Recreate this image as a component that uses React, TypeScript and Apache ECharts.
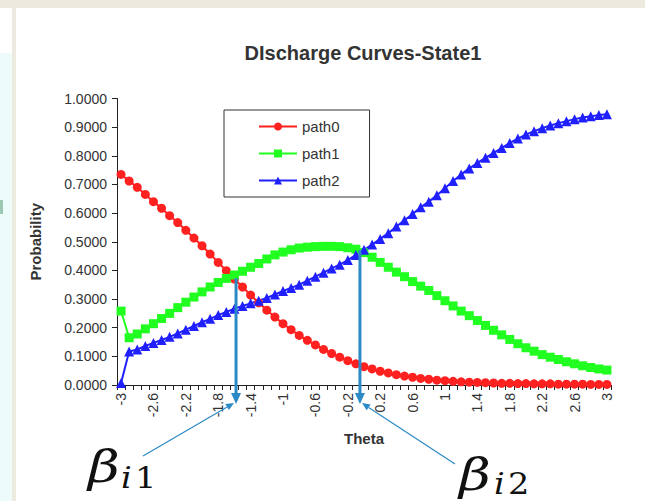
import React, { useEffect, useRef } from 'react';
import * as echarts from 'echarts';

const thetaLabels = [
  '-3', '-2.9', '-2.8', '-2.7', '-2.6', '-2.5', '-2.4', '-2.3', '-2.2', '-2.1',
  '-2', '-1.9', '-1.8', '-1.7', '-1.6', '-1.5', '-1.4', '-1.3', '-1.2', '-1.1',
  '-1', '-0.9', '-0.8', '-0.7', '-0.6', '-0.5', '-0.4', '-0.3', '-0.2', '-0.1',
  '0', '0.1', '0.2', '0.3', '0.4', '0.5', '0.6', '0.7', '0.8', '0.9',
  '1', '1.1', '1.2', '1.3', '1.4', '1.5', '1.6', '1.7', '1.8', '1.9',
  '2', '2.1', '2.2', '2.3', '2.4', '2.5', '2.6', '2.7', '2.8', '2.9', '3',
];

const path0 = [
  0.735, 0.712, 0.690, 0.665, 0.640, 0.617, 0.591, 0.567, 0.540, 0.513,
  0.486, 0.457, 0.428, 0.399, 0.370, 0.342, 0.314, 0.287, 0.261, 0.237,
  0.214, 0.193, 0.173, 0.156, 0.140, 0.124, 0.110, 0.097, 0.085, 0.074,
  0.064, 0.056, 0.048, 0.042, 0.036, 0.031, 0.027, 0.023, 0.020, 0.017,
  0.015, 0.013, 0.011, 0.010, 0.009, 0.008, 0.007, 0.006, 0.006, 0.005,
  0.005, 0.004, 0.004, 0.004, 0.003, 0.003, 0.003, 0.003, 0.002, 0.002, 0.002,
];

const path1 = [
  0.258, 0.165, 0.178, 0.196, 0.214, 0.232, 0.250, 0.270, 0.289, 0.307,
  0.325, 0.342, 0.358, 0.372, 0.384, 0.397, 0.411, 0.424, 0.440, 0.454,
  0.464, 0.472, 0.478, 0.481, 0.483, 0.484, 0.484, 0.483, 0.479, 0.474,
  0.462, 0.446, 0.428, 0.411, 0.394, 0.378, 0.361, 0.345, 0.330, 0.312,
  0.294, 0.276, 0.258, 0.242, 0.225, 0.208, 0.191, 0.175, 0.159, 0.144,
  0.130, 0.118, 0.106, 0.097, 0.089, 0.081, 0.074, 0.067, 0.061, 0.056, 0.052,
];

const path2 = [
  0.007, 0.117, 0.124, 0.136, 0.147, 0.157, 0.168, 0.180, 0.193, 0.206,
  0.219, 0.231, 0.244, 0.255, 0.266, 0.276, 0.285, 0.294, 0.304, 0.316,
  0.328, 0.339, 0.350, 0.364, 0.378, 0.392, 0.407, 0.420, 0.436, 0.454,
  0.472, 0.490, 0.510, 0.530, 0.553, 0.575, 0.597, 0.620, 0.640, 0.662,
  0.687, 0.712, 0.735, 0.756, 0.775, 0.793, 0.810, 0.827, 0.845, 0.860,
  0.874, 0.886, 0.896, 0.906, 0.914, 0.921, 0.928, 0.934, 0.938, 0.942, 0.945,
];

const seriesNames = ['path0', 'path1', 'path2'];
const seriesColors = ['#FF2020', '#20FF20', '#2020FF'];
const seriesSymbols = ['circle', 'rect', 'triangle'];
const seriesSymbolSizes = [9, 9, 10];

const TITLE = 'DIscharge Curves-State1';
const X_NAME = 'Theta';
const Y_NAME = 'Probability';

// annotation anchors: fractional theta index and probability of the crossing
const betaIndex = [14.2, 29.5];
const betaTop = [0.373, 0.471];
const betaSub = ['1', '2'];

const FONT = '"Liberation Sans", Arial, sans-serif';
const MATH = '"DejaVu Serif", "Liberation Serif", serif';
const ANN = '#2B8AC6';

export default function App() {
  const ref = useRef<HTMLDivElement>(null);
  useEffect(() => {
    const chart = echarts.init(ref.current!, null, { renderer: 'svg' });
    const data = [path0, path1, path2];
    const background = [
      { type: 'rect', shape: { x: 0, y: 0, width: 645, height: 8 }, style: { fill: '#ECE9DF' }, silent: true },
      { type: 'rect', shape: { x: 0, y: 53, width: 12, height: 448 }, style: { fill: '#EEFBFB' }, silent: true },
      { type: 'rect', shape: { x: 12, y: 8, width: 4, height: 493 }, style: { fill: '#ECE9DF' }, silent: true },
      { type: 'rect', shape: { x: 0, y: 200, width: 3, height: 14 }, style: { fill: '#9CC8B4' }, silent: true },
    ];
    chart.setOption({
      animation: false,
      backgroundColor: '#ffffff',
      title: {
        text: TITLE,
        left: 358,
        textAlign: 'center',
        top: 38,
        textStyle: { fontFamily: FONT, fontSize: 20, fontWeight: 'bold', color: '#333333' },
      },
      legend: {
        data: seriesNames,
        orient: 'vertical',
        left: 224,
        top: 110,
        padding: [9, 30, 9, 34],
        itemWidth: 38,
        itemHeight: 10,
        itemGap: 12,
        borderColor: '#333333',
        borderWidth: 1,
        backgroundColor: '#ffffff',
        textStyle: { fontFamily: FONT, fontSize: 15, color: '#333333' },
      },
      grid: { left: 117, right: 34, top: 98.5, bottom: 116, containLabel: false },
      xAxis: {
        type: 'category',
        data: thetaLabels,
        boundaryGap: true,
        name: X_NAME,
        nameLocation: 'middle',
        nameGap: 46,
        nameTextStyle: { fontFamily: FONT, fontSize: 15, fontWeight: 'bold', color: '#333333' },
        axisLine: { lineStyle: { color: '#222222', width: 1 } },
        axisTick: { show: true, interval: 0, length: 5, lineStyle: { color: '#222222' } },
        axisLabel: {
          interval: 3,
          rotate: 90,
          margin: 8,
          fontFamily: FONT,
          fontSize: 14,
          color: '#333333',
        },
        splitLine: { show: false },
      },
      yAxis: {
        type: 'value',
        min: 0,
        max: 1,
        interval: 0.1,
        name: Y_NAME,
        nameLocation: 'middle',
        nameGap: 74,
        nameTextStyle: { fontFamily: FONT, fontSize: 15, fontWeight: 'bold', color: '#333333' },
        axisLine: { show: true, lineStyle: { color: '#222222', width: 1 } },
        axisTick: { show: true, length: 5, lineStyle: { color: '#222222' } },
        axisLabel: {
          formatter: (v: number) => v.toFixed(4),
          margin: 10,
          fontFamily: FONT,
          fontSize: 14,
          color: '#333333',
        },
        splitLine: { show: false },
      },
      series: seriesNames.map((name, k) => ({
        name,
        type: 'line',
        data: data[k],
        showAllSymbol: true,
        symbol: seriesSymbols[k],
        symbolSize: seriesSymbolSizes[k],
        itemStyle: { color: seriesColors[k] },
        lineStyle: { color: seriesColors[k], width: 2 },
      })),
      graphic: background,
    });

    const xAt = (f: number) => {
      const i0 = Math.floor(f);
      const i1 = Math.min(Math.ceil(f), thetaLabels.length - 1);
      const p0 = chart.convertToPixel({ xAxisIndex: 0 }, thetaLabels[i0]) as number;
      const p1 = chart.convertToPixel({ xAxisIndex: 0 }, thetaLabels[i1]) as number;
      return p0 + (p1 - p0) * (f - i0);
    };
    const yAt = (v: number) => chart.convertToPixel({ yAxisIndex: 0 }, v) as number;
    const y0 = yAt(0);

    const labelPos = [
      { bx: 88, by: 467, sx: 121, sy: 478, start: [143, 456] },
      { bx: 459, by: 475, sx: 494, sy: 484, start: [455, 464] },
    ];

    const ann: any[] = [];
    betaIndex.forEach((f, k) => {
      const x = xAt(f);
      const yt = yAt(betaTop[k]);
      ann.push({
        type: 'line',
        shape: { x1: x, y1: yt, x2: x, y2: y0 + 9 },
        style: { stroke: ANN, lineWidth: 3 },
        z: 100,
      });
      ann.push({
        type: 'polygon',
        shape: { points: [[x - 5, y0 + 8], [x + 5, y0 + 8], [x, y0 + 19]] },
        style: { fill: ANN },
        z: 100,
      });
      const lp = labelPos[k];
      const tip = [x + (k === 0 ? -2 : 2), y0 + 18];
      const dx = tip[0] - lp.start[0];
      const dy = tip[1] - lp.start[1];
      const len = Math.sqrt(dx * dx + dy * dy);
      const ux = dx / len;
      const uy = dy / len;
      const bxh = tip[0] - ux * 8;
      const byh = tip[1] - uy * 8;
      ann.push({
        type: 'line',
        shape: { x1: lp.start[0], y1: lp.start[1], x2: bxh, y2: byh },
        style: { stroke: ANN, lineWidth: 1.2 },
        z: 100,
      });
      ann.push({
        type: 'polygon',
        shape: {
          points: [
            [tip[0], tip[1]],
            [bxh - uy * 3.5, byh + ux * 3.5],
            [bxh + uy * 3.5, byh - ux * 3.5],
          ],
        },
        style: { fill: ANN },
        z: 100,
      });
      ann.push({
        type: 'text',
        x: lp.bx,
        y: lp.by,
        scaleX: 1.25,
        style: {
          text: 'β',
          fontFamily: MATH,
          fontStyle: 'italic',
          fontSize: 44,
          fill: '#111111',
          verticalAlign: 'middle',
          align: 'left',
        },
        z: 100,
      });
      ann.push({
        type: 'text',
        x: lp.sx,
        y: lp.sy,
        scaleX: 1.12,
        style: {
          text: '{i|i}{n|' + betaSub[k] + '}',
          rich: {
            i: { fontFamily: MATH, fontStyle: 'italic', fontSize: 30, lineHeight: 28, fill: '#111111' },
            n: { fontFamily: MATH, fontSize: 30, lineHeight: 28, fill: '#111111', padding: [0, 0, 0, 3] },
          },
          verticalAlign: 'middle',
          align: 'left',
        },
        z: 100,
      });
    });

    chart.setOption({ graphic: [...background, ...ann] });

    return () => chart.dispose();
  }, []);

  return (
    <div
      ref={ref}
      style={{ position: 'fixed', left: 0, top: 0, width: 645, height: 501, background: '#ffffff' }}
    />
  );
}
